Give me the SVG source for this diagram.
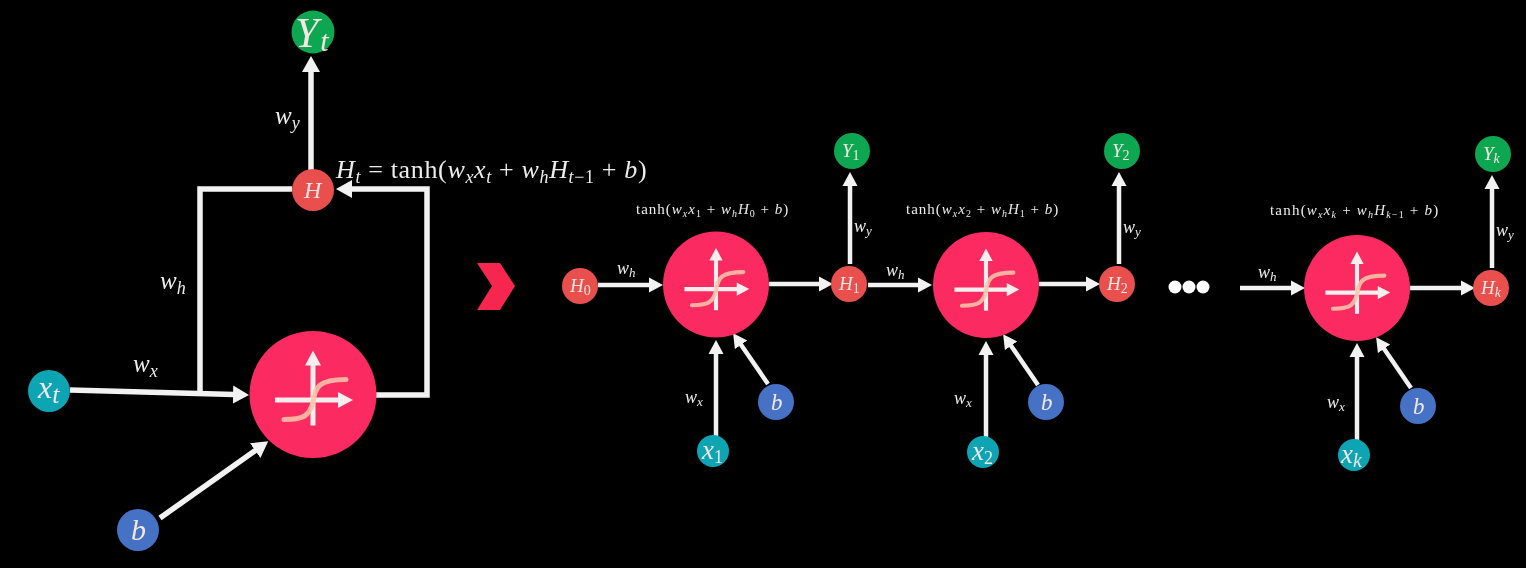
<svg xmlns="http://www.w3.org/2000/svg" xmlns:xlink="http://www.w3.org/1999/xlink" width="1526" height="568" viewBox="0 0 1526 568">
<style>
text{font-family:"Liberation Serif","DejaVu Serif",serif;fill:#ececec}
.m{font-style:italic}
.u{font-style:normal}
.n{fill:#f4e6e2}
.e1{letter-spacing:.65px}
.e2{letter-spacing:1px}
.e3{letter-spacing:1.2px}
.c{fill:#fb2a60}.r{fill:#e8504e}.g{fill:#0ca651}.t{fill:#0aa5b4}.b{fill:#4472c4}
.big{fill:none;stroke:#f2f2f2;stroke-width:5.5;marker-end:url(#hb)}
.sm{fill:none;stroke:#f2f2f2;stroke-width:4.5;marker-end:url(#hs)}
.plain{fill:none;stroke:#f2f2f2;stroke-width:5.5}
</style>
<defs>
<filter id="soft" x="0" y="0" width="100%" height="100%"><feGaussianBlur stdDeviation="0.45"/></filter>
<marker id="hb" markerUnits="userSpaceOnUse" markerWidth="17" markerHeight="20" refX="1" refY="10" orient="auto"><path d="M0,1 L16,10 L0,19Z" fill="#f2f2f2"/></marker>
<marker id="hs" markerUnits="userSpaceOnUse" markerWidth="15" markerHeight="17" refX="1" refY="8.5" orient="auto"><path d="M0,1 L14,8.5 L0,16Z" fill="#f2f2f2"/></marker>
<g id="act">
<path d="M0,31 V-30 M-38,5.5 H26" fill="none" stroke="#f4eeee" stroke-width="5"/>
<path d="M-8,-29 L0,-44 L8,-29Z M25,-2.5 L40,5.5 L25,13.5Z" fill="#f4eeee"/>
<path d="M-29,25 C-10,25 -4,22 0,8 C2,-8 6,-15 33,-15" fill="none" stroke="#f9c4a8" stroke-width="5" stroke-linecap="round" opacity=".88"/>
</g>
</defs>
<rect width="1526" height="568" fill="#000"/>
<g id="scene" filter="url(#soft)">
<g id="connectors">
<path class="big" d="M311,170 V71"/>
<path class="plain" d="M292,189 H200 V392"/>
<path class="big" d="M376,395 H427 V189 H351"/>
<path class="big" d="M70,390 L234,394.6"/>
<path class="big" d="M160,518 L256,450"/>
<path class="sm" d="M598,285 H650"/>
<path class="sm" d="M769,284 H820"/>
<path class="sm" d="M850,264 V185"/>
<path class="sm" d="M716,437 V353"/>
<path class="sm" d="M768,384 L740.5,344"/>
<path class="sm" d="M868,285 H919"/>
<path class="sm" d="M1039,284 H1087"/>
<path class="sm" d="M1119,264 V185"/>
<path class="sm" d="M986,438 V354"/>
<path class="sm" d="M1038,385 L1010.5,345"/>
<path class="sm" d="M1240,288 H1292"/>
<path class="sm" d="M1410,288 H1462"/>
<path class="sm" d="M1492,268 V188"/>
<path class="sm" d="M1357,442 V356"/>
<path class="sm" d="M1411,388 L1383.5,348"/>
</g>
<g id="labels">
<text class="m" x="275" y="124" font-size="25">w<tspan font-size="18" dy="5">y</tspan></text>
<text class="m" x="160" y="289" font-size="25">w<tspan font-size="18" dy="5">h</tspan></text>
<text class="m" x="133" y="372" font-size="25">w<tspan font-size="18" dy="5">x</tspan></text>
<text id="eq-main" class="m e1" x="336" y="178" font-size="26">H<tspan font-size="18" dy="5">t</tspan><tspan class="u" dy="-5"> = tanh(</tspan>w<tspan font-size="18" dy="5">x</tspan><tspan dy="-5">x</tspan><tspan font-size="18" dy="5">t</tspan><tspan class="u" dy="-5"> + </tspan>w<tspan font-size="18" dy="5">h</tspan><tspan dy="-5">H</tspan><tspan font-size="18" dy="5">t</tspan><tspan class="u" font-size="18">−1</tspan><tspan class="u" dy="-5"> + </tspan>b<tspan class="u">)</tspan></text>
<text class="m e2" x="636" y="214" font-size="15"><tspan class="u">tanh(</tspan>w<tspan font-size="10" dy="3">x</tspan><tspan dy="-3">x</tspan><tspan class="u" font-size="10" dy="3">1</tspan><tspan class="u" dy="-3"> + </tspan>w<tspan font-size="10" dy="3">h</tspan><tspan dy="-3">H</tspan><tspan class="u" font-size="10" dy="3">0</tspan><tspan class="u" dy="-3"> + </tspan>b<tspan class="u">)</tspan></text>
<text class="m e2" x="906" y="214" font-size="15"><tspan class="u">tanh(</tspan>w<tspan font-size="10" dy="3">x</tspan><tspan dy="-3">x</tspan><tspan class="u" font-size="10" dy="3">2</tspan><tspan class="u" dy="-3"> + </tspan>w<tspan font-size="10" dy="3">h</tspan><tspan dy="-3">H</tspan><tspan class="u" font-size="10" dy="3">1</tspan><tspan class="u" dy="-3"> + </tspan>b<tspan class="u">)</tspan></text>
<text class="m e3" x="1270" y="215" font-size="15"><tspan class="u">tanh(</tspan>w<tspan font-size="10" dy="3">x</tspan><tspan dy="-3">x</tspan><tspan font-size="10" dy="3">k</tspan><tspan class="u" dy="-3"> + </tspan>w<tspan font-size="10" dy="3">h</tspan><tspan dy="-3">H</tspan><tspan font-size="10" dy="3">k</tspan><tspan class="u" font-size="10">−1</tspan><tspan class="u" dy="-3"> + </tspan>b<tspan class="u">)</tspan></text>
<text class="m" x="617" y="274" font-size="18">w<tspan font-size="13" dy="3">h</tspan></text>
<text class="m" x="854" y="232" font-size="18">w<tspan font-size="13" dy="3">y</tspan></text>
<text class="m" x="685" y="403" font-size="18">w<tspan font-size="13" dy="3">x</tspan></text>
<text class="m" x="886" y="276" font-size="18">w<tspan font-size="13" dy="3">h</tspan></text>
<text class="m" x="1123" y="233" font-size="18">w<tspan font-size="13" dy="3">y</tspan></text>
<text class="m" x="954" y="404" font-size="18">w<tspan font-size="13" dy="3">x</tspan></text>
<text class="m" x="1258" y="278" font-size="18">w<tspan font-size="13" dy="3">h</tspan></text>
<text class="m" x="1496" y="236" font-size="18">w<tspan font-size="13" dy="3">y</tspan></text>
<text class="m" x="1327" y="408" font-size="18">w<tspan font-size="13" dy="3">x</tspan></text>
</g>
<path id="chevron" d="M477,263 H500 L515,286 L500,310 H477 L492,286Z" fill="#f7264f"/>
<g id="dots" fill="#fff"><circle cx="1175" cy="287" r="6.5"/><circle cx="1189" cy="287" r="6.5"/><circle cx="1203" cy="287" r="6.5"/></g>
<g id="node-Yt"><circle class="g" cx="313" cy="32" r="21.5"/><text class="m n" x="295" y="47" font-size="42">Y<tspan font-size="30" dx="2" dy="4">t</tspan></text></g>
<g id="node-H"><circle class="r" cx="313" cy="190" r="21"/><text class="m n" x="304" y="198" font-size="24">H</text></g>
<g id="node-A"><circle class="c" cx="313" cy="394.5" r="63.5"/><use xlink:href="#act" href="#act" transform="translate(313,394.5)"/></g>
<g id="node-xt"><circle class="t" cx="49" cy="391" r="21"/><text class="m n" x="38" y="398" font-size="32">x<tspan font-size="26" dy="5">t</tspan></text></g>
<g id="node-b"><circle class="b" cx="138" cy="530" r="21"/><text class="m n" x="131" y="540" font-size="30">b</text></g>
<g id="node-H0"><circle class="r" cx="580" cy="286" r="18"/><text class="m n" x="570" y="292" font-size="19">H<tspan class="u" font-size="14" dy="3">0</tspan></text></g>
<g id="node-A1"><circle class="c" cx="716" cy="284.5" r="53"/><use xlink:href="#act" href="#act" transform="translate(716,284.5) scale(.83)"/></g>
<g id="node-H1"><circle class="r" cx="849" cy="284" r="18"/><text class="m n" x="839" y="290" font-size="19">H<tspan class="u" font-size="14" dy="3">1</tspan></text></g>
<g id="node-Y1"><circle class="g" cx="852" cy="151" r="18"/><text class="m n" x="842" y="157" font-size="19">Y<tspan class="u" font-size="14" dy="3">1</tspan></text></g>
<g id="node-b1"><circle class="b" cx="776" cy="402" r="18"/><text class="m n" x="771" y="410" font-size="23">b</text></g>
<g id="node-x1"><circle class="t" cx="713" cy="451" r="16"/><text class="m n" x="702" y="459" font-size="27">x<tspan class="u" font-size="18" dy="4">1</tspan></text></g>
<g id="node-A2"><circle class="c" cx="986" cy="285" r="53"/><use xlink:href="#act" href="#act" transform="translate(986,285) scale(.83)"/></g>
<g id="node-H2"><circle class="r" cx="1117" cy="284" r="18"/><text class="m n" x="1107" y="290" font-size="19">H<tspan class="u" font-size="14" dy="3">2</tspan></text></g>
<g id="node-Y2"><circle class="g" cx="1122" cy="151" r="18"/><text class="m n" x="1112" y="157" font-size="19">Y<tspan class="u" font-size="14" dy="3">2</tspan></text></g>
<g id="node-b2"><circle class="b" cx="1046" cy="402" r="18"/><text class="m n" x="1041" y="410" font-size="23">b</text></g>
<g id="node-x2"><circle class="t" cx="983" cy="452" r="16"/><text class="m n" x="972" y="460" font-size="27">x<tspan class="u" font-size="18" dy="4">2</tspan></text></g>
<g id="node-A3"><circle class="c" cx="1357" cy="288" r="53"/><use xlink:href="#act" href="#act" transform="translate(1357,288) scale(.83)"/></g>
<g id="node-Hk"><circle class="r" cx="1491" cy="288" r="18"/><text class="m n" x="1481" y="294" font-size="19">H<tspan font-size="14" dy="3">k</tspan></text></g>
<g id="node-Yk"><circle class="g" cx="1493" cy="154" r="18"/><text class="m n" x="1483" y="160" font-size="19">Y<tspan font-size="14" dy="3">k</tspan></text></g>
<g id="node-bk"><circle class="b" cx="1418" cy="406" r="18"/><text class="m n" x="1413" y="414" font-size="23">b</text></g>
<g id="node-xk"><circle class="t" cx="1354" cy="455" r="16"/><text class="m n" x="1341" y="463" font-size="27">x<tspan font-size="20" dy="4">k</tspan></text></g>
</g>
</svg>
